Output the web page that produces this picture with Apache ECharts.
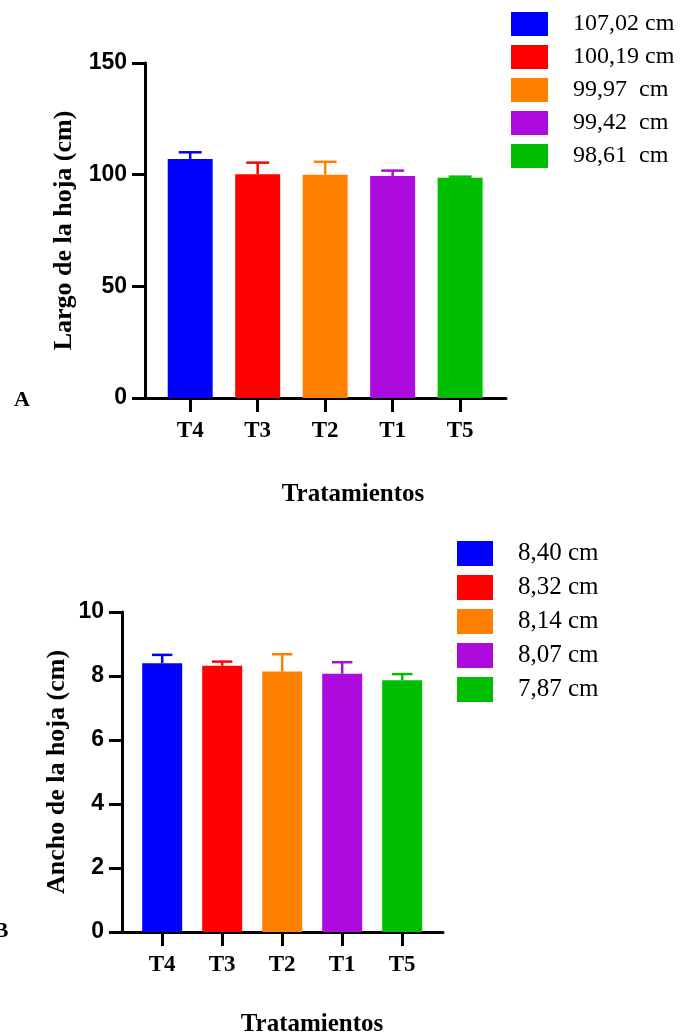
<!DOCTYPE html>
<html>
<head>
<meta charset="utf-8">
<script src="https://cdn.jsdelivr.net/npm/echarts@6/dist/echarts.min.js"></script>
<style>
  html, body { margin: 0; padding: 0; background: #fff; }
  #chart { width: 684px; height: 1035px; }
</style>
</head>
<body>
<div id="chart"></div>
<script>
const treatments = ['T4', 'T3', 'T2', 'T1', 'T5']
const colors = ['#0000ff', '#ff0000', '#ff8000', '#ad0ade', '#00bf00']

// panel A: largo de la hoja
const largo = [107.02, 100.19, 99.97, 99.42, 98.61]
const largoErr = [3.0, 5.2, 5.8, 2.4, 0.5]
const largoLabels = ['107,02 cm', '100,19 cm', '99,97  cm', '99,42  cm', '98,61  cm']

// panel B: ancho de la hoja
const ancho = [8.40, 8.32, 8.14, 8.07, 7.87]
const anchoErr = [0.26, 0.13, 0.54, 0.36, 0.19]
const anchoLabels = ['8,40 cm', '8,32 cm', '8,14 cm', '8,07 cm', '7,87 cm']

const serif = '"Liberation Serif", "Times New Roman", serif'
const sans = '"Liberation Sans", Arial, sans-serif'

function barSeries (values, labels, axisIndex, width) {
  return values.map((v, i) => ({
    name: labels[i],
    type: 'bar',
    xAxisIndex: axisIndex,
    yAxisIndex: axisIndex,
    barWidth: width,
    barGap: '-100%',
    itemStyle: { color: colors[i] },
    data: [[i, v]],
    emphasis: { disabled: true },
    silent: true,
  }))
}

function errorSeries (values, errs, axisIndex) {
  return {
    type: 'custom',
    xAxisIndex: axisIndex,
    yAxisIndex: axisIndex,
    silent: true,
    z: 1,
    data: values.map((v, i) => ({
      value: [i, v, errs[i]],
      itemStyle: { color: colors[i] },
    })),
    renderItem: function (params, api) {
      let x = api.value(0)
      let mean = api.value(1)
      let err = api.value(2)
      let base = api.coord([x, mean])
      let top = api.coord([x, mean + err])
      let half = api.size([1, 0])[0] * 0.17
      let color = colors[params.dataIndex]
      let style = { stroke: color, lineWidth: 2.5, fill: null }
      return {
        type: 'group',
        children: [
          { type: 'line', shape: { x1: base[0], y1: base[1], x2: top[0], y2: top[1] }, style: style },
          { type: 'line', shape: { x1: top[0] - half, y1: top[1], x2: top[0] + half, y2: top[1] }, style: style },
        ],
      }
    },
  }
}

function xAxis (gridIndex, fontSize) {
  return {
    gridIndex: gridIndex,
    type: 'value',
    min: -0.67,
    max: 4.68,
    splitLine: { show: false },
    axisLine: { show: true, onZero: false, lineStyle: { color: '#000', width: 3 } },
    axisTick: { show: true, length: 14, lineStyle: { color: '#000', width: 3 }, customValues: [0, 1, 2, 3, 4] },
    axisLabel: {
      customValues: [0, 1, 2, 3, 4],
      formatter: v => treatments[Math.round(v)],
      margin: 22,
      color: '#000',
      fontFamily: serif,
      fontWeight: 'bold',
      fontSize: fontSize,
    },
  }
}

function yAxis (gridIndex, max, interval, name, gap) {
  return {
    gridIndex: gridIndex,
    type: 'value',
    min: 0,
    max: max,
    interval: interval,
    name: name,
    nameLocation: 'middle',
    nameRotate: 90,
    nameGap: gap,
    nameTextStyle: { color: '#000', fontFamily: serif, fontWeight: 'bold', fontSize: 26 },
    splitLine: { show: false },
    axisLine: { show: true, onZero: false, lineStyle: { color: '#000', width: 3 } },
    axisTick: { show: true, length: 13, lineStyle: { color: '#000', width: 3 } },
    axisLabel: { margin: 18, color: '#000', fontFamily: sans, fontWeight: 'bold', fontSize: 23 },
  }
}

function legend (labels, left, top, w, h, fontSize) {
  return {
    data: labels,
    orient: 'vertical',
    left: left,
    top: top,
    padding: 0,
    itemWidth: w,
    itemHeight: h,
    itemGap: 9,
    icon: 'rect',
    selectedMode: false,
    textStyle: { color: '#000', fontFamily: serif, fontSize: fontSize, padding: [0, 0, 0, 20] },
  }
}

function label (text, x, y, size) {
  return {
    type: 'text',
    x: x,
    y: y,
    style: {
      text: text,
      fill: '#000',
      fontFamily: serif,
      fontWeight: 'bold',
      fontSize: size,
      align: 'center',
      verticalAlign: 'middle',
    },
  }
}

let option = {
  animation: false,
  backgroundColor: '#fff',
  grid: [
    { left: 145, top: 63, width: 361, height: 335 },
    { left: 122, top: 612, width: 321, height: 320 },
  ],
  xAxis: [xAxis(0, 23), xAxis(1, 23)],
  yAxis: [
    yAxis(0, 150, 50, 'Largo de la hoja (cm)', 66),
    yAxis(1, 10, 2, 'Ancho de la hoja (cm)', 52),
  ],
  legend: [
    legend(largoLabels, 511, 12, 37, 24, 24),
    legend(anchoLabels, 457, 541, 36, 25, 25),
  ],
  graphic: [
    label('A', 22, 400, 22),
    label('B', 1, 931, 22),
    label('Tratamientos', 353, 495, 25),
    label('Tratamientos', 312, 1025, 25),
  ],
  series: [
    ...barSeries(largo, largoLabels, 0, 45),
    ...barSeries(ancho, anchoLabels, 1, 40),
    errorSeries(largo, largoErr, 0),
    errorSeries(ancho, anchoErr, 1),
  ],
}

let myChart = echarts.init(document.getElementById('chart'))
myChart.setOption(option)
</script>
</body>
</html>
